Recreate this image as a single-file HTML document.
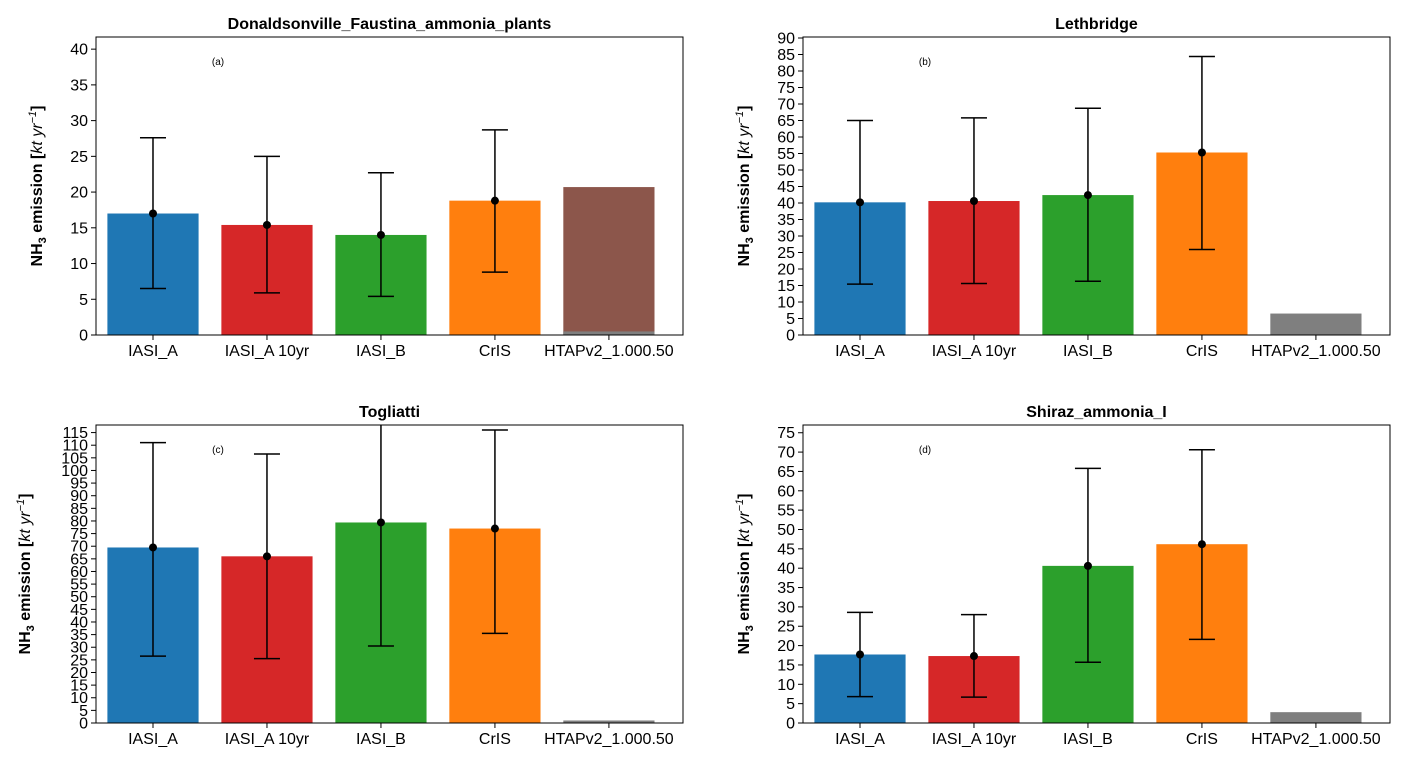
<!DOCTYPE html>
<html><head><meta charset="utf-8"><style>
body{margin:0;background:#fff;}
svg{font-family:"Liberation Sans","DejaVu Sans",sans-serif;}
</style></head><body>
<svg id="s" width="1409" height="765" xmlns="http://www.w3.org/2000/svg"></svg>
<script>
const categories=["IASI_A","IASI_A 10yr","IASI_B","CrIS","HTAPv2_1.000.50"];
const colors=["#1f77b4","#d62728","#2ca02c","#ff7f0e","#7f7f7f"];
const titles=["Donaldsonville_Faustina_ammonia_plants","Lethbridge","Togliatti","Shiraz_ammonia_I"];
const tags=["(a)","(b)","(c)","(d)"];
const valuesA=[17,15.4,14,18.8,0.5];
const valuesB=[40.2,40.6,42.4,55.3,6.5];
const valuesC=[69.5,66,79.4,77,1];
const valuesD=[17.7,17.3,40.6,46.2,2.8];
const lowA=[6.5,5.9,5.4,8.8], highA=[27.6,25,22.7,28.7];
const lowB=[15.4,15.6,16.3,25.9], highB=[65,65.8,68.7,84.4];
const lowC=[26.5,25.5,30.5,35.5], highC=[111,106.5,119,116];
const lowD=[6.8,6.7,15.7,21.6], highD=[28.6,28,65.8,70.6];
const extraA=20.7;
const ymaxs=[41.7,90.3,118,77];
const tickSteps=[5,5,5,5];
const tickMax=[40,90,115,75];
const panels=[
 {x:96,y:37,v:valuesA,lo:lowA,hi:highA},
 {x:803,y:37,v:valuesB,lo:lowB,hi:highB},
 {x:96,y:425,v:valuesC,lo:lowC,hi:highC},
 {x:803,y:425,v:valuesD,lo:lowD,hi:highD}];
const W=587,H=298,NS="http://www.w3.org/2000/svg";
const svg=document.getElementById('s');
function mk(t,a,p){const e=document.createElementNS(NS,t);for(const k in a)e.setAttribute(k,a[k]);(p||svg).appendChild(e);return e;}
panels.forEach((P,pi)=>{
 const g=mk('g',{});
 
 
 const ymax=ymaxs[pi];
 const sy=v=>P.y+H-v/ymax*H;
 const sx=i=>P.x+(i+0.5)/5.15*W;
 const bw=0.8/5.15*W;
 if(pi===0){const r=mk('rect',{x:sx(4)-bw/2,y:sy(extraA),width:bw,height:sy(0)-sy(extraA),fill:"#8c564b"},g);
  }
 P.v.forEach((v,i)=>{
  const r=mk('rect',{x:sx(i)-bw/2,y:sy(v),width:bw,height:sy(0)-sy(v),fill:colors[i]},g);
  
 });
 P.lo.forEach((l,i)=>{
  const h=Math.min(P.hi[i],ymax);
  const e=mk('g',{stroke:"#000","stroke-width":1.5},g);
  
  mk('line',{x1:sx(i),x2:sx(i),y1:sy(l),y2:sy(h)},e);
  mk('line',{x1:sx(i)-13,x2:sx(i)+13,y1:sy(l),y2:sy(l)},e);
  if(P.hi[i]<=ymax)mk('line',{x1:sx(i)-13,x2:sx(i)+13,y1:sy(h),y2:sy(h)},e);
  mk('circle',{cx:sx(i),cy:sy(P.v[i]),r:4,fill:"#000",stroke:"none"},e);
 });
 const fr=mk('rect',{x:P.x,y:P.y,width:W,height:H,fill:"none",stroke:"#000","stroke-width":1},g);
 
 for(let t=0;t<=tickMax[pi];t+=tickSteps[pi]){
  mk('line',{x1:P.x-5,x2:P.x,y1:sy(t),y2:sy(t),stroke:"#000"},g);
  const tx=mk('text',{x:P.x-8,y:sy(t)+5.5,"text-anchor":"end","font-size":16},g);tx.textContent=t;
  
 }
 categories.forEach((c,i)=>{
  mk('line',{x1:sx(i),x2:sx(i),y1:P.y+H,y2:P.y+H+5,stroke:"#000"},g);
  const tx=mk('text',{x:sx(i),y:P.y+H+21,"text-anchor":"middle","font-size":16},g);tx.textContent=c;
  
 });
 const ti=mk('text',{x:P.x+W/2,y:P.y-8,"text-anchor":"middle","font-size":16,"font-weight":"bold"},g);ti.textContent=titles[pi];
 
 const tg=mk('text',{x:P.x+122,y:P.y+28,"text-anchor":"middle","font-size":10},g);tg.textContent=tags[pi];
 
 const yl=mk('text',{transform:`translate(${P.x-(pi===2?66:54)},${P.y+H/2}) rotate(-90)`,"text-anchor":"middle","font-size":16,"font-weight":"bold"},g);
 yl.innerHTML='NH<tspan font-size="11" dy="4">3</tspan><tspan dy="-4"> emission [</tspan><tspan font-style="italic" font-weight="normal">kt yr</tspan><tspan font-size="11" dy="-6" font-style="italic" font-weight="normal">−1</tspan><tspan dy="6">]</tspan>';
 
});
</script>
</body></html>
